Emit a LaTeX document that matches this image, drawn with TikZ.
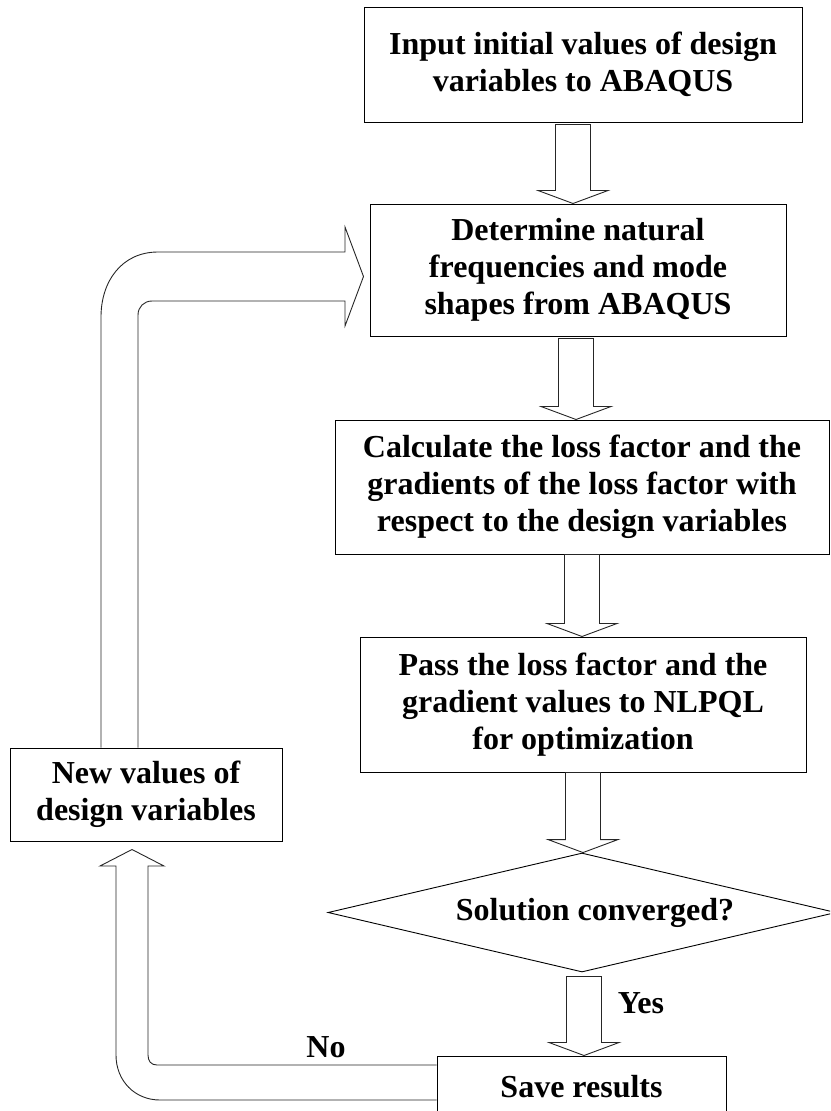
\documentclass[tikz,border=0pt]{standalone}
\usepackage{fontspec}
\setmainfont{Liberation Serif}
\usetikzlibrary{calc,shapes.geometric}
\tikzset{
  txt/.style={font=\fontsize{32}{37}\selectfont\bfseries},
  box/.style={txt, draw=black, line width=1pt, align=center, inner sep=0pt},
  lbl/.style={txt, inner sep=0pt},
  arr/.style={draw=black!85, line width=0.9pt, line join=miter},
}
\newcommand\blockdown[4]{%
  \draw[arr, fill=white] let \p1=(#1), \p2=($(#2)+(#3,0)$) in
    (\x2-17.5pt,\y1-#4pt) -- (\x2-17.5pt,\y2+13pt) -- (\x2-35pt,\y2+13pt) -- (\x2,\y2)
    -- (\x2+35pt,\y2+13pt) -- (\x2+17.5pt,\y2+13pt) -- (\x2+17.5pt,\y1-#4pt) -- cycle;}
\begin{document}
\begin{tikzpicture}[x=1pt,y=-1pt]
\useasboundingbox (0,0) rectangle (830,1111);
\clip (0,0) rectangle (830,1111);

\node[box, minimum width=438, minimum height=115] (b1) at (583,64.5)
  {Input initial values of design\\variables to ABAQUS};
\node[box, minimum width=416, minimum height=132] (b2) at (578,270)
  {Determine natural\\frequencies and mode\\shapes from ABAQUS};
\node[box, minimum width=494, minimum height=134] (b3) at (582,487)
  {Calculate the loss factor and the\\gradients of the loss factor with\\respect to the design variables};
\node[box, minimum width=446, minimum height=135] (b4) at (583,704.5)
  {Pass the loss factor and the\\gradient values to NLPQL\\for optimization};
\node[txt, draw=black, line width=0.9pt, diamond, aspect=4.2, inner sep=0pt,
      minimum width=508, minimum height=119] (dia) at (582,912.5) {\hspace*{26pt}Solution converged?};
\node[box, minimum width=289, minimum height=62] (save) at (581.5,1087) {Save results};
\node[box, minimum width=272, minimum height=93] (nv) at (146,794.5)
  {New values of\\design variables};

\node[lbl] (yes) at (641,1003) {Yes};
\node[lbl] (no) at (326,1047) {No};

\blockdown{b1.south}{b2.north}{-5}{2}
\blockdown{b2.south}{b3.north}{-6}{2}
\blockdown{b3.south}{b4.north}{-1}{0}
\blockdown{b4.south}{dia.north}{1}{0}
\blockdown{dia.south}{save.north}{2.5}{4}

% loop back arrow to b2
\draw[arr] ($(nv.north)+(-45,0)$) -- (101,317) .. controls (101,281) and (122,252) .. (158,252)
  -- (345,252) -- (345,227) -- ($(b2.west)+(-6,6.5)$) -- (345,326) -- (345,301)
  -- (152,301) .. controls (144,301) and (138,307) .. (138,315) -- ($(nv.north)+(-8,0)$);

% No arrow from save to nv
\draw[arr] ($(save.west)+(0,13)$) -- (160,1100) .. controls (135,1100) and (116,1081) .. (116,1055)
  -- (116,866) -- (100,866) -- ($(nv.south)+(-14,8)$) -- (164,866) -- (148,866)
  -- (148,1055) .. controls (148,1061) and (151,1065) .. (157,1065) -- ($(save.west)+(0,-22)$);
\end{tikzpicture}
\end{document}
